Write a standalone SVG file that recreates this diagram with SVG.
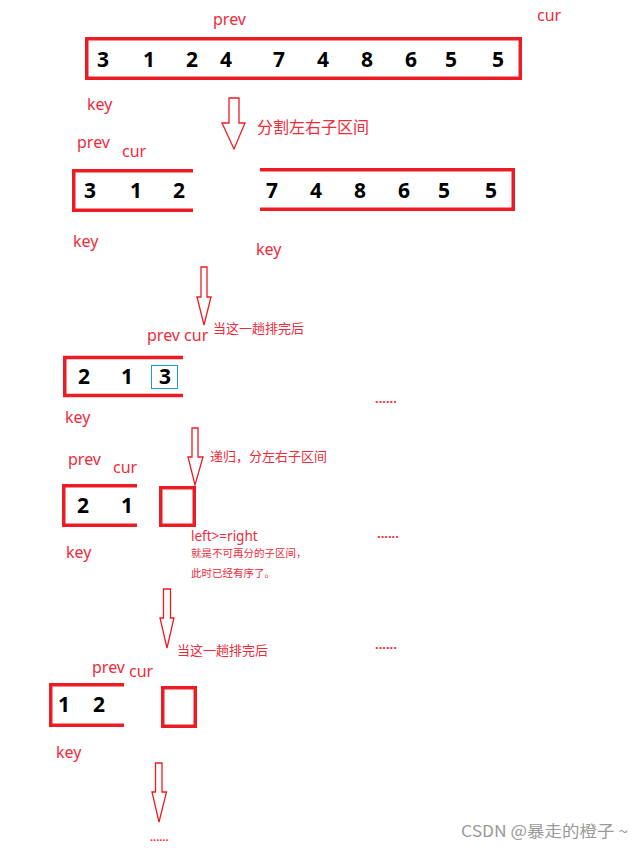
<svg xmlns="http://www.w3.org/2000/svg" width="644" height="848" viewBox="0 0 644 848">
<style>
.lbl{font-family:"Noto Sans","Liberation Sans",sans-serif;font-size:16px;fill:#ef2b3b}
.cn{font-family:"Noto Sans CJK SC","Noto Sans",sans-serif;fill:#ef2b3b}
.num{font-family:"Noto Sans","Liberation Sans",sans-serif;font-size:21px;font-weight:bold;fill:#000;text-anchor:middle}
.box{fill:none;stroke:#ed1c24;stroke-width:3.5}
.arr{fill:#fff;stroke:#ed1c24;stroke-width:1.3}
.dots{font-family:"Noto Sans",sans-serif;font-size:13px;font-weight:bold;fill:#ef2b3b}
.wm{font-family:"Noto Sans CJK SC","Noto Sans",sans-serif;font-size:16px;fill:#9a9a9a}
</style>
<rect width="644" height="848" fill="#fff"/>

<g id="row1">
  <text class="lbl" x="213" y="25">prev</text>
  <text class="lbl" x="537" y="21">cur</text>
  <rect class="box" x="86.75" y="38.75" width="433.5" height="39.5"/>
  <text class="num" x="103" y="66.5">3</text>
  <text class="num" x="149" y="66.5">1</text>
  <text class="num" x="192" y="66.5">2</text>
  <text class="num" x="226" y="66.5">4</text>
  <text class="num" x="279" y="66.5">7</text>
  <text class="num" x="323" y="66.5">4</text>
  <text class="num" x="367" y="66.5">8</text>
  <text class="num" x="411" y="66.5">6</text>
  <text class="num" x="451" y="66.5">5</text>
  <text class="num" x="498" y="66.5">5</text>
  <text class="lbl" x="87" y="110">key</text>
</g>

<g id="row2-left">
  <text class="lbl" x="77" y="148">prev</text>
  <text class="lbl" x="122" y="157">cur</text>
  <path class="box" d="M193,170.75 H73.75 V210.25 H193"/>
  <text class="num" x="90" y="198">3</text>
  <text class="num" x="136" y="198">1</text>
  <text class="num" x="179" y="198">2</text>
  <text class="lbl" x="73" y="247">key</text>
</g>

<g id="row2-right">
  <path class="box" d="M260,169.75 H513.25 V209.25 H260"/>
  <text class="num" x="272" y="198">7</text>
  <text class="num" x="316" y="198">4</text>
  <text class="num" x="360" y="198">8</text>
  <text class="num" x="404" y="198">6</text>
  <text class="num" x="444" y="198">5</text>
  <text class="num" x="491" y="198">5</text>
  <text class="lbl" x="256" y="255">key</text>
</g>

<g id="row3">
  <text class="lbl" x="147" y="341">prev cur</text>
  <path class="box" d="M183,357.5 H64.75 V395.5 H183"/>
  <rect x="151.5" y="365.5" width="26" height="23" fill="none" stroke="#1e9ad6" stroke-width="1"/>
  <text class="num" x="84" y="384">2</text>
  <text class="num" x="127" y="384">1</text>
  <text class="num" x="165" y="384">3</text>
  <text class="lbl" x="65" y="423">key</text>
  <text class="dots" x="375" y="403">......</text>
</g>

<g id="row4">
  <text class="lbl" x="68" y="465">prev</text>
  <text class="lbl" x="113" y="473">cur</text>
  <path class="box" d="M137,485.75 H63.75 V525.25 H137"/>
  <text class="num" x="83" y="513">2</text>
  <text class="num" x="127" y="513">1</text>
  <text class="lbl" x="66" y="558">key</text>
</g>

<g id="row4-single">
  <rect class="box" x="160.75" y="487.75" width="33.5" height="37.5"/>
  <text class="lbl" x="191" y="541" style="font-size:13.5px">left&gt;=right</text>
  <text class="cn" x="191" y="557" style="font-size:10.5px">就是不可再分的子区间，</text>
  <text class="cn" x="191" y="577" style="font-size:10.5px">此时已经有序了。</text>
  <text class="dots" x="377" y="538">......</text>
</g>

<g id="row5">
  <text class="lbl" x="92" y="673">prev</text>
  <text class="lbl" x="129" y="677">cur</text>
  <path class="box" d="M124,684.75 H50.75 V725.25 H124"/>
  <text class="num" x="64" y="712">1</text>
  <text class="num" x="99" y="712">2</text>
  <text class="lbl" x="56" y="758">key</text>
  <text class="dots" x="375" y="649">......</text>
</g>

<g id="row5-single">
  <rect class="box" x="162.75" y="687.75" width="32.5" height="38.5"/>
</g>

<g id="end">
  <text class="dots" x="150" y="841" style="font-size:11px">......</text>
</g>

<g id="connectors">
  <polygon class="arr" points="229,98 239,98 239,123 245,123 234,149 222,123 229,123"/>
  <text class="cn" x="257" y="133" style="font-size:16px">分割左右子区间</text>
  <polygon class="arr" points="201,267 207,267 207,297 211,297 204,325 197,297 201,297"/>
  <text class="cn" x="213" y="333" style="font-size:13px">当这一趟排完后</text>
  <polygon class="arr" points="192,428 198,428 198,457 203,457 195,485 188,457 192,457"/>
  <text class="cn" x="210" y="461" style="font-size:13px">递归，分左右子区间</text>
  <polygon class="arr" points="163.5,589 170.5,589 170.5,618 174,618 167,648 160,618 163.5,618"/>
  <text class="cn" x="177" y="655" style="font-size:13px">当这一趟排完后</text>
  <polygon class="arr" points="155.5,763 162,763 162,792 166.5,792 159,822 152,792 155.5,792"/>
</g>

<text class="wm" x="461" y="837" textLength="167" lengthAdjust="spacingAndGlyphs">CSDN @暴走的橙子 ~</text>
</svg>
